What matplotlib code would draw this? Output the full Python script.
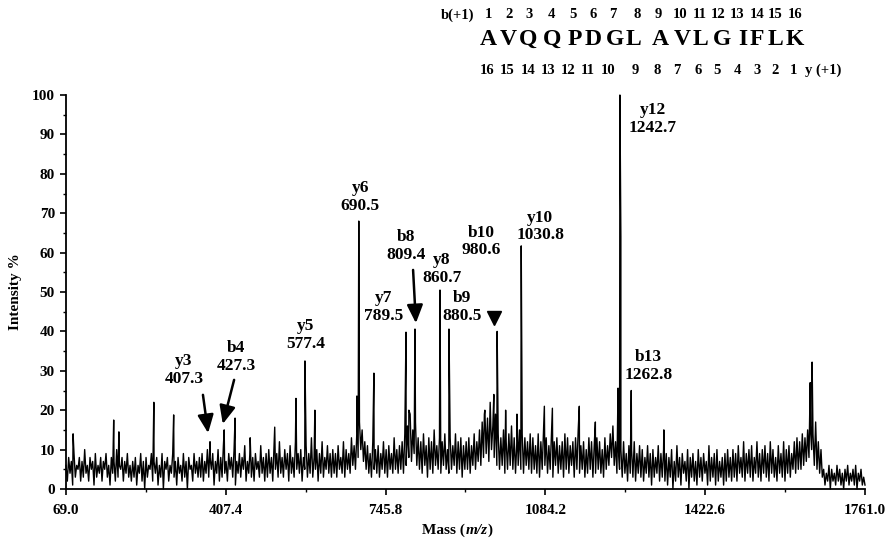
import numpy as np
import matplotlib
matplotlib.use("Agg")
import matplotlib.pyplot as plt
from matplotlib.ticker import MultipleLocator, FixedLocator

plt.rcParams['font.family'] = ['Liberation Serif', 'DejaVu Serif']
plt.rcParams['font.weight'] = 'bold'

# ---------------- data ----------------
mz_min, mz_max = 69.0, 1761.0
xtick_vals = [69.0, 407.4, 745.8, 1084.2, 1422.6, 1761.0]

noise_1 = [6,2,8,4,7,1,9,3,6,5,8,2,7,3,10,4,6,2,8,5,7,1,9,3,6,4,8,2,7,5,9,3,6,1,8,4,7,2,10,3,6,5,8,2,7,4,9,3,6,2]
noise_2 = [7,3,8,1,6,4,9,2,7,0,8,3,6,5,9,2,7,4,8,1,6,3,9,0,7,5,8,2,6,4,9,3,7,1,8,4,6,2,9,3,7,0,8,5,6,2,9,4,7,3]
noise_3 = [8,3,9,2,7,4,10,3,8,5,9,1,7,4,10,2,8,3,11,4,7,2,9,5,8,3,10,1,7,4,9,3,8,5,11,2,7,4,10,3,8,2,9,5,7,3,11,4,8,2]
noise_4 = [9,3,10,4,8,2,11,5,9,3,12,4,8,3,10,5,9,2,11,4,8,3,12,5,9,4,10,2,8,5,11,3,9,4,13,3,8,5,10,2,9,4,12,3,8,5,11,4,9,3]
noise_5 = [10,4,9,3,11,5,8,4,12,3,10,5,9,4,13,6,11,5,14,8,17,10,15,7,12,5,11,4,9,3,12,5,10,4,11,3,9,5,12,4,10,3,11,5,9,4,13,5,10,4]
noise_6 = [11,5,12,4,14,6,16,8,19,7,15,9,17,6,13,5,12,4,14,6,11,3,13,5,12,4,15,6,11,5,13,4,12,6,14,5,10,4,13,5,11,6,14,4,12,5,13,3,11,5]
noise_7 = [12,5,13,4,11,6,14,5,12,7,15,6,17,8,20,9,18,7,22,10,16,8,19,6,14,5,13,6,15,4,12,5,14,6,16,5,13,4,12,6,15,5,14,4,13,6,12,5,14,4]
noise_8 = [13,5,11,4,14,3,12,5,15,6,13,4,11,5,14,3,12,6,13,4,11,5,12,3,14,5,13,4,11,6,12,3,13,5,15,4,11,5,12,3,10,4,13,5,12,3,11,4,13,5]
noise_9 = [12,4,10,3,13,5,11,6,14,8,16,6,12,4,11,5,10,3,12,4,9,2,11,4,10,3,12,2,9,4,11,3,10,2,8,4,11,3,9,1,10,3,8,4,11,2,9,3,10,2]
noise_10 = [9,1,8,3,10,0,7,2,11,3,8,1,9,4,7,2,10,0,8,3,9,2,7,1,10,3,8,2,9,4,7,1,11,2,8,3,9,1,10,2,7,3,8,1,9,2,10,3,8,2]
noise_11 = [10,3,9,2,11,4,8,3,12,2,9,4,10,3,11,2,8,4,12,3,9,2,10,4,11,3,9,2,12,4,10,3,8,2,11,4,9,3,12,2,10,4,11,3,9,5,12,4,13,5]
noise_12 = [12,5,14,6,13,7,15,8,16,10,14,6,17,5,12,4,10,3,5,1,4,2,6,0,5,2,4,1,6,2,5,1,4,0,5,2,6,1,4,2,5,1,6,0,4,2,5,1,3,1]

# small unlabeled spikes
minor_mz = [84, 170, 181, 255, 297, 427, 459, 511, 556, 596, 685, 721, 795, 955, 975, 1000, 1024,
            1082, 1099, 1156, 1190, 1238, 1335, 1645]
minor_int = [14, 17.5, 14.5, 22, 18.8, 18, 13, 15.7, 23, 20, 23.6, 29.4, 20, 19, 24, 20, 19,
             21, 20.5, 21, 17, 25.6, 15, 27]

# labelled fragment peaks (positions)
peak_names = ['y3', 'b4', 'y5', 'y6', 'y7', 'b8', 'y8', 'b9', 'b10', 'y10', 'y12', 'b13']
peak_labels = ['407.3', '427.3', '577.4', '690.5', '789.5', '809.4', '860.7', '880.5', '980.6',
               '1030.8', '1242.7', '1262.8']
peak_mz = [374, 404, 575, 689, 789, 808, 861, 880, 982, 1033, 1242, 1266]
peak_int = [12, 15, 32.5, 68, 39.8, 40.6, 50.5, 40.6, 40, 61.7, 100, 25]

# other large peaks
extra_mz = [1244, 1649]
extra_int = [64, 32.2]

# peptide sequence header
b_numbers = [str(i) for i in range(1, 17)]
sequence = list("AVQQPDGLAVLGIFLK")
y_numbers = [str(i) for i in range(16, 0, -1)]

# ---------------- figure ----------------
W, H = 887, 545
fig = plt.figure(figsize=(W / 100, H / 100), dpi=100)
ax = fig.add_axes([66 / W, 1 - 489 / H, 799 / W, 394 / H])

noise = np.concatenate([noise_1, noise_2, noise_3, noise_4, noise_5, noise_6,
                        noise_7, noise_8, noise_9, noise_10, noise_11, noise_12]).astype(float)
noise_mz = np.linspace(mz_min, mz_max, len(noise))

all_mz = np.concatenate([noise_mz, minor_mz, peak_mz, extra_mz])
all_int = np.concatenate([noise, minor_int, peak_int, extra_int])
order = np.argsort(all_mz, kind='stable')
ax.plot(all_mz[order], all_int[order], color='black', lw=1.0, clip_on=False)

ax.set_xlim(mz_min, mz_max)
ax.set_ylim(0, 100)
for s in ['top', 'right']:
    ax.spines[s].set_visible(False)
for s in ['left', 'bottom']:
    ax.spines[s].set_linewidth(1.3)

ax.xaxis.set_major_locator(FixedLocator(xtick_vals))
ax.xaxis.set_minor_locator(FixedLocator([(a + b) / 2 for a, b in zip(xtick_vals[:-1], xtick_vals[1:])]))
ax.set_xticklabels([f"{v:.1f}" for v in xtick_vals])
ax.yaxis.set_major_locator(MultipleLocator(10))
ax.yaxis.set_minor_locator(MultipleLocator(5))
ax.tick_params(which='major', direction='out', length=4, width=1.2, labelsize=11)
ax.tick_params(axis='x', which='major', pad=7)
ax.tick_params(axis='y', which='major', pad=4)
ax.tick_params(which='minor', direction='out', length=2.5, width=1.0)
for t in ax.get_xticklabels() + ax.get_yticklabels():
    t.set_fontweight('bold')

ax.set_ylabel('Intensity %', fontsize=11, fontweight='bold', labelpad=7)

# x label with italic m/z
fig.text(0.5245, 1 - 530 / H, 'Mass (', fontsize=11, fontweight='bold', ha='right', va='center')
fig.text(0.5245, 1 - 530 / H, 'm/z', fontsize=11, fontweight='bold', style='italic', ha='left', va='center')
fig.text(0.5245 + 22 / W, 1 - 530 / H, ')', fontsize=11, fontweight='bold', ha='left', va='center')

# peak labels
label_pos = [(319, 30.2), (429, 33.6), (577, 39.1), (692, 74.1), (742, 46.1), (789, 61.7),
             (865, 55.8), (908, 46.1), (948, 62.8), (1073, 66.6), (1312, 94), (1303, 31.3)]
for name, lab, (lx, ly) in zip(peak_names, peak_labels, label_pos):
    ax.text(lx, ly, f"{name}\n{lab}", ha='center', va='center', fontsize=12.5,
            fontweight='bold', linespacing=1.15)

# arrows
arrow_kw = dict(arrowstyle='-|>,head_length=0.5,head_width=0.22', color='black', lw=1.8,
                mutation_scale=22, shrinkA=0, shrinkB=0)
for (x0, y0), (x1, y1) in [((359, 23.9), (370, 14.2)),
                           ((425, 27.7), (401, 16.5)),
                           ((804, 55.6), (810, 42.1))]:
    ax.annotate('', xy=(x1, y1), xytext=(x0, y0), arrowprops=arrow_kw)
ax.plot([975], [43.4], marker='v', color='black', markersize=10, clip_on=False)

# sequence header
b_x = [488, 509, 529, 551, 573, 593, 613, 637, 658, 680, 700, 718, 737, 757, 775, 795]
seq_x = [488, 508, 528, 552, 575, 593, 615, 633, 660, 682, 700, 722, 743, 757, 775, 795]
y_x = [487, 507, 528, 548, 568, 588, 608, 635, 657, 677, 698, 717, 737, 757, 775, 793]
fig.text(474 / W, 1 - 15 / H, 'b(+1)', fontsize=10.5, fontweight='bold', ha='right', va='center')
for x, t in zip(b_x, b_numbers):
    fig.text(x / W, 1 - 15 / H, t, fontsize=10.5, fontweight='bold', ha='center', va='center')
for x, t in zip(seq_x, sequence):
    fig.text(x / W, 1 - 39 / H, t, fontsize=17, fontweight='bold', ha='center', va='center')
for x, t in zip(y_x, y_numbers):
    fig.text(x / W, 1 - 70 / H, t, fontsize=10.5, fontweight='bold', ha='center', va='center')
fig.text(823 / W, 1 - 70 / H, 'y (+1)', fontsize=10.5, fontweight='bold', ha='center', va='center')

fig.savefig('out.png', dpi=100)
